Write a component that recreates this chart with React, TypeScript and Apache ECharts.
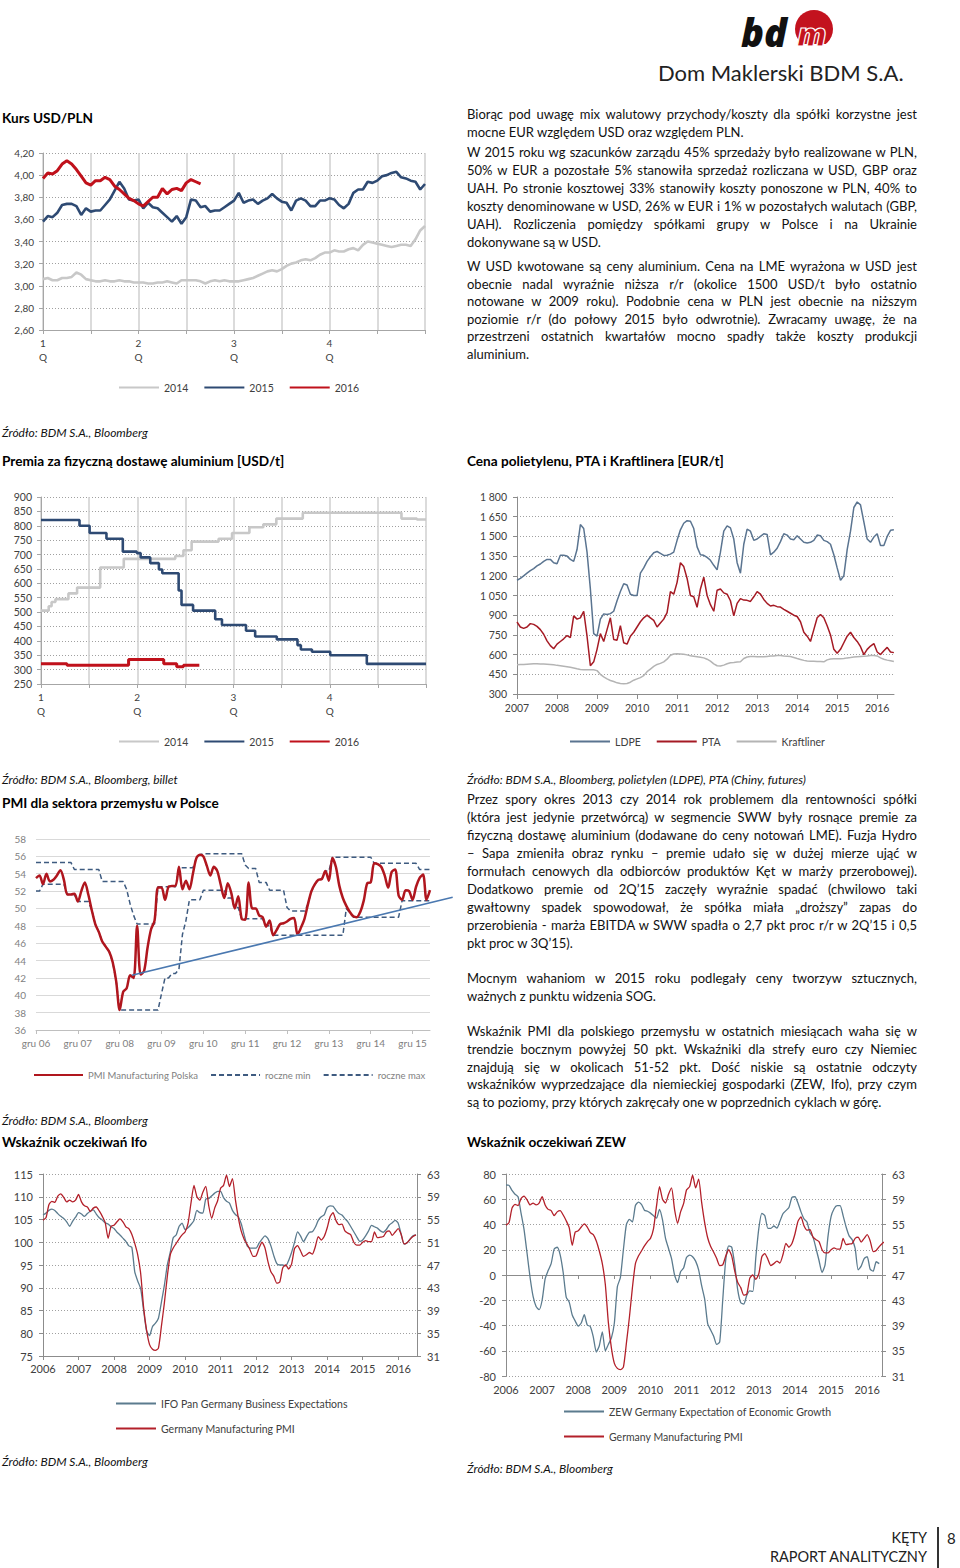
import React, { useEffect, useRef } from 'react';
import * as echarts from 'echarts';

// ---------------- DATA ----------------
// Chart 1: Kurs USD/PLN (x in half-quarter units, sampled every 0.1)
const USD_STEP = 0.1;
const USD_2014 = [3.06,3.07,3.05,3.05,3.07,3.07,3.08,3.12,3.10,3.06,
 3.05,3.04,3.04,3.05,3.04,3.04,3.05,3.04,3.04,3.03,
 3.03,3.03,3.02,3.02,3.03,3.03,3.04,3.03,3.02,3.05,
 3.05,3.05,3.05,3.04,3.02,3.04,3.05,3.04,3.05,3.04,
 3.04,3.04,3.05,3.06,3.07,3.09,3.11,3.13,3.14,3.13,
 3.15,3.18,3.20,3.21,3.23,3.24,3.23,3.25,3.28,3.30,
 3.30,3.32,3.31,3.31,3.33,3.34,3.32,3.37,3.40,3.39,
 3.38,3.37,3.36,3.35,3.36,3.37,3.37,3.36,3.42,3.50,
 3.54];
const USD_2015 = [3.58,3.63,3.62,3.66,3.73,3.74,3.74,3.72,3.64,3.70,
 3.67,3.68,3.68,3.73,3.78,3.86,3.94,3.88,3.78,3.77,
 3.78,3.70,3.75,3.71,3.70,3.66,3.62,3.58,3.63,3.56,
 3.62,3.78,3.77,3.71,3.72,3.67,3.68,3.68,3.71,3.74,
 3.77,3.84,3.75,3.77,3.78,3.74,3.77,3.79,3.83,3.79,
 3.76,3.75,3.68,3.77,3.79,3.77,3.72,3.72,3.77,3.77,
 3.79,3.78,3.73,3.70,3.74,3.84,3.87,3.87,3.94,3.93,
 3.95,3.99,4.00,4.02,4.03,3.98,3.97,3.95,3.94,3.87,
 3.92];
const USD_2016 = [3.97,4.02,4.01,4.04,4.10,4.13,4.10,4.05,3.99,3.93,
 3.91,3.95,3.95,3.98,3.96,3.90,3.87,3.83,3.79,3.77,
 3.74,3.72,3.76,3.80,3.80,3.88,3.83,3.87,3.88,3.86,
 3.93,3.96,3.94,3.92];
const Q_LABELS = ['1\nQ', '2\nQ', '3\nQ', '4\nQ'];

// Chart 2: Premia (step changes: [position in half-quarters, USD/t])
const PREM_2014 = [[0,505],[0.16,520],[0.22,535],[0.30,545],[0.57,565],[0.75,585],[1.23,655],[1.72,685],[2.79,695],[2.96,715],[3.13,745],[3.69,755],[3.97,775],[4.33,795],[4.62,805],[4.89,825],[5.44,845],[7.49,825],[7.81,822],[8,822]];
const PREM_2015 = [[0,820],[0.80,800],[1.01,775],[1.36,755],[1.70,710],[1.99,705],[2.07,690],[2.27,670],[2.45,648],[2.52,635],[2.86,575],[2.92,525],[3.16,505],[3.62,475],[3.76,455],[4.26,435],[4.45,415],[4.90,405],[5.33,385],[5.40,370],[5.63,362],[6.01,350],[6.77,320],[8,320]];
const PREM_2016 = [[0,320],[0.54,315],[1.82,335],[2.55,320],[2.82,310],[2.96,315],[3.29,315]];

// Chart 3: monthly from Jan 2007
const POLY_START = 2007;
const POLY_YEARS = [2007,2008,2009,2010,2011,2012,2013,2014,2015,2016];
const LDPE = [1166,1180,1200,1220,1240,1255,1275,1290,1310,1325,
 1325,1300,1292,1356,1356,1350,1325,1310,1400,1590,
 1560,1380,1100,760,740,870,910,905,912,930,
 1010,1080,1140,1130,1060,1050,1050,1220,1260,1310,
 1345,1375,1385,1370,1355,1356,1365,1380,1470,1550,
 1600,1620,1615,1560,1420,1360,1356,1340,1318,1280,
 1245,1380,1540,1580,1565,1480,1300,1220,1440,1555,
 1540,1470,1480,1500,1520,1515,1360,1380,1410,1460,
 1520,1510,1480,1475,1505,1480,1455,1450,1455,1470,
 1510,1505,1470,1460,1440,1360,1260,1165,1200,1400,
 1540,1720,1762,1740,1610,1480,1455,1495,1520,1430,
 1430,1500,1546,1550];
const PTA = [848,810,800,810,836,830,815,790,755,705,
 668,645,680,700,720,745,730,895,870,880,
 930,740,515,545,640,760,700,790,880,715,
 710,820,690,680,740,770,810,850,880,900,
 880,860,810,840,870,920,1080,1060,1150,1300,
 1270,1180,1050,1040,960,1100,1190,1050,980,930,
 1090,1100,1070,1060,1010,895,990,1026,1015,1013,
 1005,1040,1080,1060,1020,990,970,975,965,962,
 945,930,915,900,890,850,770,740,700,790,
 880,905,880,820,750,640,610,640,690,740,
 770,730,700,660,600,640,665,684,620,600,
 630,655,620,615];
const KRAFT = [523,524,525,527,529,530,530,529,528,527,
 525,522,518,515,512,508,503,498,492,487,
 485,484,484,484,478,450,430,415,403,395,
 385,380,378,380,390,405,415,425,440,470,
 490,510,525,533,545,565,595,605,607,605,
 603,598,592,588,584,580,575,565,550,530,
 515,513,520,530,538,540,543,545,570,582,
 585,585,584,583,583,586,589,590,593,593,
 590,588,585,578,570,563,556,552,550,549,
 548,547,545,560,567,568,569,569,570,575,
 578,582,584,586,588,590,593,594,590,575,
 565,558,553,548];

// Chart 4: PMI Polska, monthly from Dec 2006 (month index 0)
const PMI_LABELS = ['gru 06','gru 07','gru 08','gru 09','gru 10','gru 11','gru 12','gru 13','gru 14','gru 15'];
const PMI_LABEL_MONTHS = [0,12,24,36,48,60,72,84,96,108];
const PMI_PL = [53.5,53.8,52.8,54.0,53.1,53.3,53.8,54.4,53.3,51.6,
 51.6,51.7,50.8,52.0,53.0,51.6,49.8,48.2,47.3,46.2,
 45.6,45.0,43.8,41.6,38.3,40.4,40.8,42.3,42.0,48.0,
 42.4,42.8,45.5,47.6,48.6,52.4,52.4,51.0,52.5,52.6,
 52.6,54.8,52.2,53.2,52.2,54.0,55.8,56.2,56.0,54.9,
 53.8,54.8,54.3,52.7,51.2,52.9,51.8,50.0,51.4,48.8,
 48.7,53.0,50.0,50.0,49.2,49.0,47.9,48.6,46.9,47.5,
 48.2,48.3,48.5,48.8,48.9,47.0,47.8,48.8,50.5,52.0,
 52.8,53.3,53.4,54.3,53.2,55.8,54.8,52.6,51.2,50.3,
 49.6,49.1,49.0,49.6,50.9,52.9,53.0,55.2,55.1,54.8,
 53.8,52.4,54.2,54.5,51.5,51.0,52.1,52.0,51.0,52.5,
 53.5,53.9,51.0,52.1];
const PMI_PL_MIN = [52.0,52.0,52.8,52.8,52.8,52.8,52.8,52.8,52.8,51.6,
 51.6,51.6,50.8,50.8,50.8,50.8,49.8,48.2,47.3,46.2,
 45.6,45.0,43.8,41.6,38.3,38.3,38.3,38.3,38.3,38.3,
 38.3,38.3,38.3,38.3,38.3,38.3,40.2,42.0,42.0,42.5,
 42.5,43.0,47.0,48.6,51.0,51.0,51.0,51.0,52.1,52.1,
 52.1,52.1,52.1,52.1,52.1,51.2,51.2,50.1,50.1,48.8,
 48.8,48.8,48.8,48.8,48.8,48.8,48.0,48.0,46.9,46.9,
 46.9,46.9,46.9,46.9,46.9,46.9,46.9,46.9,46.9,46.9,
 46.9,46.9,46.9,46.9,46.9,46.9,46.9,46.9,46.9,50.0,
 49.5,49.0,49.0,49.0,49.0,49.0,49.0,49.0,49.0,49.0,
 49.0,49.0,49.0,49.0,49.0,50.9,50.9,50.9,50.9,50.9,
 50.9,50.9,50.9,50.9];
const PMI_PL_MAX = [55.3,55.3,55.3,55.3,55.3,55.3,55.3,55.3,55.3,55.3,
 55.3,54.5,54.5,54.5,54.5,54.5,54.5,54.5,54.5,53.1,
 53.1,53.1,53.1,53.1,53.1,53.1,52.2,50.5,49.2,48.2,
 48.2,48.2,48.2,48.2,48.2,52.5,52.5,52.5,52.5,52.5,
 52.5,54.7,54.7,54.7,54.7,54.7,55.8,56.2,56.3,56.3,
 56.3,56.3,56.3,56.3,56.3,56.3,56.3,56.3,56.3,56.3,
 55.0,54.6,54.6,54.6,53.0,53.0,53.0,52.1,52.1,52.1,
 52.1,52.1,50.1,49.7,49.7,49.7,49.7,49.7,50.5,52.0,
 52.8,53.3,53.4,54.3,54.3,55.9,55.9,55.9,55.9,55.9,
 55.9,55.9,55.9,55.9,55.9,55.9,55.9,55.2,55.2,55.2,
 55.2,55.2,55.2,55.2,55.2,55.2,55.2,55.2,55.2,55.2,
 54.5,54.5,54.5,54.5];
const PMI_TREND = [[27.5, 42.3], [119.5, 51.3]];

// Charts 5 & 6: monthly from Jan 2006
const DE_START = 2006;
const DE_YEARS = [2006,2007,2008,2009,2010,2011,2012,2013,2014,2015,2016];
const DE_PMI_TICKS = [31,35,39,43,47,51,55,59,63];
const IFO = [106.0,106.4,107.0,107.3,107.0,106.3,105.7,105.2,104.5,103.5,
 104.6,105.5,106.5,106.2,105.7,106.3,106.8,107.1,106.2,105.4,
 104.9,104.3,104.0,103.4,103.0,102.2,101.6,100.9,100.2,99.2,
 98.9,93.5,91.5,89.8,85.0,80.5,79.5,81.5,82.2,83.3,
 86.8,90.5,95.0,97.8,101.0,101.6,103.5,104.2,102.8,103.2,
 103.9,104.8,107.0,106.5,106.4,109.5,109.6,110.2,110.8,111.2,
 111.2,109.8,109.0,108.6,107.0,106.1,105.6,104.0,101.5,99.2,
 98.7,98.7,98.7,99.8,100.7,101.4,100.8,99.2,97.0,95.3,
 95.0,95.0,94.8,96.0,97.8,100.0,102.3,101.4,100.1,101.2,
 102.2,102.3,103.3,104.8,105.6,106.0,107.6,108.0,107.9,107.0,
 106.3,106.0,105.2,104.5,103.4,102.3,101.2,100.2,100.5,101.4,
 102.5,103.7,103.4,103.1,102.5,102.2,102.8,103.8,104.3,104.8,
 104.2,101.8,99.6,99.9,100.7,101.4,101.6];
const DE_PMI = [54.9,55.3,57.6,58.2,58.0,59.1,59.5,58.9,58.1,58.4,
 58.1,58.4,59.4,58.1,57.4,57.2,56.4,57.0,57.2,56.5,
 55.6,54.5,51.7,53.8,54.0,54.6,55.1,54.6,53.7,53.4,
 52.4,50.8,48.8,45.5,39.5,35.5,33.0,32.2,32.0,32.4,
 36.2,40.3,45.0,48.8,50.0,50.8,51.6,52.3,52.8,54.3,
 57.9,61.0,59.0,58.4,59.8,60.8,57.4,55.2,57.0,58.3,
 60.5,61.0,62.8,60.8,62.2,58.5,55.3,52.9,51.5,50.6,
 49.6,48.5,48.6,50.0,51.0,50.0,47.6,45.8,45.0,43.8,
 44.0,46.5,47.0,46.3,47.2,49.9,50.4,49.5,48.5,48.8,
 49.2,48.9,50.2,52.0,51.4,52.0,53.5,55.5,56.2,54.8,
 54.1,54.2,53.0,52.6,52.3,51.0,50.5,50.5,51.0,51.3,
 51.1,51.1,52.8,51.8,51.9,52.0,52.8,53.0,52.2,52.8,
 53.4,52.4,50.7,50.9,51.5,52.0,52.3];
const ZEW = [71.3,71.0,67.0,64.0,62.0,49.0,36.0,17.2,-2.0,-17.0,
 -25.0,-27.5,-20.0,-3.0,3.5,9.0,20.5,22.0,16.0,2.0,
 -17.5,-21.5,-31.7,-36.5,-40.5,-38.0,-31.5,-39.6,-40.8,-49.0,
 -61.0,-56.0,-45.0,-60.0,-55.0,-50.0,-38.0,-9.2,-2.0,20.0,
 40.0,44.0,42.0,55.0,57.8,56.0,51.3,50.5,49.0,47.0,
 45.0,52.0,43.6,29.0,21.0,13.0,0.0,-6.0,2.6,5.5,
 14.0,15.8,14.5,11.0,4.0,-8.5,-19.0,-38.5,-43.6,-48.5,
 -55.0,-53.0,-20.0,11.9,23.0,22.0,8.0,-12.0,-22.0,-23.0,
 -16.0,-12.5,-13.0,14.0,37.0,48.8,47.0,37.0,37.0,38.8,
 37.2,42.5,48.5,51.0,53.5,61.5,62.0,57.0,50.0,44.5,
 42.0,33.5,30.0,21.0,11.5,2.0,8.0,31.0,46.2,52.5,
 55.0,55.0,47.0,38.0,31.0,28.0,21.0,4.0,7.0,13.0,
 14.5,4.5,3.0,10.5,9.0];

// ---------------- TEXT ----------------
const TEXT_TOP = [
  { y: 114, lh: 18, lines: ['Biorąc pod uwagę mix walutowy przychody/koszty dla spółki korzystne jest', 'mocne EUR względem USD oraz względem PLN.'] },
  { y: 152, lh: 18, lines: ['W 2015 roku wg szacunków zarządu 45% sprzedaży było realizowane w PLN,', '50% w EUR a pozostałe 5% stanowiła sprzedaż rozliczana w USD, GBP oraz', 'UAH. Po stronie kosztowej 33% stanowiły  koszty ponoszone w PLN, 40% to', 'koszty denominowane w USD, 26% w EUR i 1% w pozostałych walutach (GBP,', 'UAH). Rozliczenia pomiędzy spółkami grupy w Polsce i na Ukrainie', 'dokonywane są w USD.'] },
  { y: 266, lh: 17.6, lines: ['W USD kwotowane są ceny aluminium. Cena na LME wyrażona w USD jest', 'obecnie nadal wyraźnie niższa r/r (okolice 1500 USD/t było ostatnio', 'notowane w 2009 roku). Podobnie cena w PLN jest obecnie na niższym', 'poziomie r/r (do połowy 2015 było odwrotnie). Zwracamy uwagę, że na', 'przestrzeni ostatnich kwartałów mocno spadły także koszty produkcji', 'aluminium.'] },
];
const TEXT_MID = [
  { y: 799, lh: 18, lines: ['Przez spory okres 2013 czy 2014 rok problemem dla rentowności spółki', '(która jest jedynie przetwórcą) w segmencie SWW były rosnące premie za', 'fizyczną dostawę aluminium (dodawane do ceny notowań LME). Fuzja Hydro', '– Sapa zmieniła obraz rynku – premie udało się w dużej mierze ująć w', 'formułach cenowych dla odbiorców produktów Kęt w marży przerobowej).', 'Dodatkowo premie od 2Q’15 zaczęły wyraźnie spadać (chwilowo taki', 'gwałtowny spadek spowodował, że spółka miała „droższy” zapas do', 'przerobienia - marża EBITDA w SWW spadła o 2,7 pkt proc r/r w 2Q’15 i 0,5', 'pkt proc w 3Q’15).'] },
  { y: 978, lh: 18, lines: ['Mocnym wahaniom w 2015 roku podlegały ceny tworzyw sztucznych,', 'ważnych z punktu widzenia SOG.'] },
  { y: 1031, lh: 17.8, lines: ['Wskaźnik PMI dla polskiego przemysłu w ostatnich miesiącach waha się w', 'trendzie bocznym powyżej 50 pkt. Wskaźniki dla strefy euro czy Niemiec', 'znajdują się w okolicach  51-52 pkt. Dość niskie są ostatnie odczyty', 'wskaźników wyprzedzające dla niemieckiej gospodarki (ZEW, Ifo), przy czym', 'są to poziomy, przy których zakręcały one w poprzednich cyklach w górę.'] },
];

const FONT = 'Lato, "Open Sans", "DejaVu Sans", sans-serif';
const BODY_SIZE = 13;

const seq = (arr: number[], start: number, step: number) => arr.map((v, i) => [start + i * step, v]);
const near = (v: number, k: number) => Math.abs(v / k - Math.round(v / k)) < 1e-6;

function buildOption(): any {
  const lbl = (extra: any = {}) => ({ color: '#404040', fontSize: 10, fontFamily: FONT, ...extra });
  const dotted = { show: true, lineStyle: { color: '#a0a0a0', type: [1, 2], width: 1 } };
  const axLine = (c = '#a6a6a6') => ({ show: true, onZero: false, lineStyle: { color: c, width: 1 } });
  const tick = (len = 4, c = '#a6a6a6') => ({ show: true, length: len, lineStyle: { color: c } });
  const vSplit = { show: true, lineStyle: { color: '#d2d2d2', width: 1.6 } };
  const qFmt = (v: number) => (near(v, 2) && v < 7.9 ? Q_LABELS[Math.round(v / 2)] : '');
  const polyFmt = (v: number) => String(Math.round(v));
  const thousand = (v: number) => (v >= 1000 ? `${Math.floor(v / 1000)} ${String(v % 1000).padStart(3, '0')}` : String(v));

  const ln = (name: string, xi: number, yi: number, data: any[], color: string, width: number, extra: any = {}) => ({
    type: 'line', name, xAxisIndex: xi, yAxisIndex: yi, data, symbol: 'none', showSymbol: false,
    lineStyle: { color, width, ...(extra.lineStyle || {}) }, itemStyle: { color }, emphasis: { disabled: true },
    ...Object.fromEntries(Object.entries(extra).filter(([k]) => k !== 'lineStyle')),
  });

  const legBase = {
    padding: 0, itemWidth: 40, itemHeight: 12, selectedMode: false,
    itemStyle: { opacity: 0 },
    textStyle: { color: '#404040', fontSize: 10.5, fontFamily: FONT },
  };

  const C_GREY = '#c8c8c8', C_BLUE = '#2e4a73', C_RED = '#c0111b';
  const PMI_GRID_W = 394;
  const PMI_X_MAX = 113;
  const TREND_X_MAX = 119.5;

  return {
    animation: false,
    textStyle: { fontFamily: FONT },
    grid: [
      { left: 43, top: 153, width: 382, height: 177, outerBoundsMode: 'none' },
      { left: 41, top: 497, width: 385, height: 187, outerBoundsMode: 'none' },
      { left: 517, top: 497, width: 377, height: 197, outerBoundsMode: 'none' },
      { left: 36, top: 839, width: PMI_GRID_W, height: 191, outerBoundsMode: 'none' },
      { left: 43, top: 1174, width: 374, height: 182, outerBoundsMode: 'none' },
      { left: 506, top: 1174, width: 376, height: 202, outerBoundsMode: 'none' },
      // same scale as the PMI grid, extended to the right for the trend line that runs past the plot
      { left: 36, top: 839, width: PMI_GRID_W * TREND_X_MAX / PMI_X_MAX, height: 191, outerBoundsMode: 'none' },
    ],
    legend: [
      { ...legBase, left: 118, top: 382, itemGap: 15, data: ['2014', '2015', '2016'] },
      { ...legBase, left: 118, top: 736, itemGap: 15, data: ['2014', '2015', '2016'] },
      { ...legBase, left: 569, top: 736, itemGap: 15, data: ['LDPE', 'PTA', 'Kraftliner'] },
      { ...legBase, left: 33, top: 1070, itemWidth: 49, itemGap: 12, textStyle: { color: '#7f7f7f', fontSize: 9.5, fontFamily: FONT }, data: ['PMI Manufacturing Polska', 'roczne min', 'roczne max'] },
      { ...legBase, left: 115, top: 1398, orient: 'vertical', itemGap: 14, data: ['IFO Pan Germany Business Expectations', 'Germany Manufacturing PMI'] },
      { ...legBase, left: 563, top: 1406, orient: 'vertical', itemGap: 14, data: ['ZEW Germany Expectation of Economic Growth', 'Germany Manufacturing PMI'] },
    ],
    xAxis: [
      { gridIndex: 0, type: 'value', min: 0, max: 8, interval: 1, axisLine: axLine(), axisTick: tick(4), splitLine: vSplit, axisLabel: lbl({ formatter: qFmt, lineHeight: 14, margin: 6 }) },
      { gridIndex: 1, type: 'value', min: 0, max: 8, interval: 1, axisLine: axLine(), axisTick: tick(4), splitLine: vSplit, axisLabel: lbl({ formatter: qFmt, lineHeight: 14, margin: 6 }) },
      { gridIndex: 2, type: 'value', min: 2007, max: 2016.42, interval: 1, axisLine: axLine('#8c8c8c'), axisTick: { ...tick(5, '#8c8c8c'), customValues: POLY_YEARS }, splitLine: { show: false }, axisLabel: lbl({ formatter: polyFmt, customValues: POLY_YEARS, margin: 8, fontSize: 10.5 }) },
      { gridIndex: 3, type: 'value', min: 0, max: PMI_X_MAX, interval: 12, axisLine: axLine('#bfbfbf'), axisTick: { ...tick(4, '#bfbfbf'), customValues: PMI_LABEL_MONTHS }, splitLine: { show: false }, axisLabel: lbl({ color: '#7f7f7f', fontSize: 10, margin: 8, customValues: PMI_LABEL_MONTHS, formatter: (v: number) => PMI_LABELS[Math.round(v / 12)] || '' }) },
      { gridIndex: 4, type: 'value', min: 2006, max: 2016.53, interval: 1, axisLine: axLine('#8c8c8c'), axisTick: { ...tick(4, '#8c8c8c'), customValues: DE_YEARS }, splitLine: { show: false }, axisLabel: lbl({ formatter: polyFmt, customValues: DE_YEARS, margin: 7, fontSize: 11 }) },
      { gridIndex: 5, type: 'value', min: 2006, max: 2016.41, interval: 1, axisLine: { show: true, onZero: true, lineStyle: { color: '#8c8c8c', width: 1 } }, axisTick: { ...tick(4, '#8c8c8c'), customValues: DE_YEARS }, splitLine: { show: false }, axisLabel: lbl({ formatter: polyFmt, customValues: DE_YEARS, margin: 8, fontSize: 11 }) },
      { gridIndex: 6, type: 'value', min: 0, max: TREND_X_MAX, show: false },
    ],
    yAxis: [
      { gridIndex: 0, type: 'value', min: 2.6, max: 4.2, interval: 0.2, axisLine: axLine(), axisTick: tick(4), splitLine: dotted, axisLabel: lbl({ formatter: (v: number) => v.toFixed(2).replace('.', ','), margin: 9 }) },
      { gridIndex: 1, type: 'value', min: 250, max: 900, interval: 50, axisLine: axLine(), axisTick: tick(4), splitLine: dotted, axisLabel: lbl({ margin: 9, fontSize: 10.5 }) },
      { gridIndex: 2, type: 'value', min: 300, max: 1800, interval: 150, axisLine: axLine('#8c8c8c'), axisTick: tick(4, '#8c8c8c'), splitLine: dotted, axisLabel: lbl({ formatter: thousand, margin: 10, fontSize: 10.5 }) },
      { gridIndex: 3, type: 'value', min: 36, max: 58, interval: 2, axisLine: { show: false }, axisTick: { show: false }, splitLine: { show: true, lineStyle: { color: '#d9d9d9', width: 1 } }, axisLabel: lbl({ color: '#7f7f7f', margin: 10, fontSize: 10 }) },
      { gridIndex: 4, type: 'value', min: 75, max: 115, interval: 5, axisLine: axLine('#8c8c8c'), axisTick: tick(4, '#8c8c8c'), splitLine: dotted, axisLabel: lbl({ margin: 10, fontSize: 11 }) },
      { gridIndex: 4, type: 'value', position: 'right', min: 31, max: 63, axisLine: axLine('#8c8c8c'), axisTick: { ...tick(4, '#8c8c8c'), customValues: DE_PMI_TICKS }, splitLine: { show: false }, axisLabel: lbl({ margin: 10, fontSize: 11, customValues: DE_PMI_TICKS }) },
      { gridIndex: 5, type: 'value', min: -80, max: 80, interval: 20, axisLine: axLine('#8c8c8c'), axisTick: tick(4, '#8c8c8c'), splitLine: dotted, axisLabel: lbl({ margin: 10, fontSize: 11 }) },
      { gridIndex: 5, type: 'value', position: 'right', min: 31, max: 63, axisLine: axLine('#8c8c8c'), axisTick: { ...tick(4, '#8c8c8c'), customValues: DE_PMI_TICKS }, splitLine: { show: false }, axisLabel: lbl({ margin: 10, fontSize: 11, customValues: DE_PMI_TICKS }) },
      { gridIndex: 6, type: 'value', min: 36, max: 58, show: false },
    ],
    series: [
      // chart 1
      ln('2014', 0, 0, seq(USD_2014, 0, USD_STEP), C_GREY, 2.6),
      ln('2015', 0, 0, seq(USD_2015, 0, USD_STEP), C_BLUE, 2.6),
      ln('2016', 0, 0, seq(USD_2016, 0, USD_STEP), C_RED, 3),
      // chart 2
      ln('2014', 1, 1, PREM_2014, C_GREY, 2.6, { step: 'end' }),
      ln('2015', 1, 1, PREM_2015, C_BLUE, 2.6, { step: 'end' }),
      ln('2016', 1, 1, PREM_2016, C_RED, 3, { step: 'end' }),
      // chart 3
      ln('LDPE', 2, 2, seq(LDPE, POLY_START, 1 / 12), '#5a7490', 1.5),
      ln('PTA', 2, 2, seq(PTA, POLY_START, 1 / 12), '#a51a24', 1.5),
      ln('Kraftliner', 2, 2, seq(KRAFT, POLY_START, 1 / 12), '#b4b4b4', 1.5),
      // chart 4
      ln('roczne min', 3, 3, seq(PMI_PL_MIN, 0, 1), '#3e5b80', 1.5, { lineStyle: { type: [5, 3] } }),
      ln('roczne max', 3, 3, seq(PMI_PL_MAX, 0, 1), '#3e5b80', 1.5, { lineStyle: { type: [5, 3] } }),
      ln('PMI Manufacturing Polska', 3, 3, seq(PMI_PL, 0, 1), '#b0161e', 2.5, { smooth: 0.3 }),
      ln('trend', 6, 8, PMI_TREND, '#4a78b0', 1.6),
      // chart 5
      ln('IFO Pan Germany Business Expectations', 4, 4, seq(IFO, DE_START, 1 / 12), '#5b7b8e', 1.3, { smooth: 0.2 }),
      ln('Germany Manufacturing PMI', 4, 5, seq(DE_PMI, DE_START, 1 / 12), '#b3202a', 1.3, { smooth: 0.2 }),
      // chart 6
      ln('ZEW Germany Expectation of Economic Growth', 5, 6, seq(ZEW, DE_START, 1 / 12), '#5b7b8e', 1.3, { smooth: 0.2 }),
      ln('Germany Manufacturing PMI', 5, 7, seq(DE_PMI, DE_START, 1 / 12), '#b3202a', 1.3, { smooth: 0.2 }),
    ],
  };
}

const abs = (x: number, cy: number, extra: any = {}): React.CSSProperties => ({
  position: 'absolute', left: x, top: cy - 9, height: 18, lineHeight: '18px', whiteSpace: 'nowrap', color: '#111', fontFamily: FONT, ...extra,
});

function Title({ x, y, children }: any) {
  return <div style={abs(x, y, { fontWeight: 700, fontSize: 13.6, color: '#000' })}>{children}</div>;
}
function Source({ x, y, children }: any) {
  return <div style={abs(x, y, { fontStyle: 'italic', fontSize: 12 })}>{children}</div>;
}
function Paragraphs({ x, w, blocks }: any) {
  const out: any[] = [];
  blocks.forEach((b: any, bi: number) => {
    b.lines.forEach((t: string, i: number) => {
      const last = i === b.lines.length - 1;
      out.push(
        <div key={`${bi}-${i}`} data-fit="1" style={abs(x, b.y + i * b.lh, { width: w, fontSize: BODY_SIZE, textAlign: 'justify', textAlignLast: last ? 'left' : 'justify', color: '#111', overflow: 'visible' })}>{t}</div>
      );
    });
  });
  return <>{out}</>;
}

export default function App() {
  const ref = useRef<HTMLDivElement>(null);
  useEffect(() => {
    const chart = echarts.init(ref.current as HTMLDivElement, undefined, { renderer: 'svg' });
    chart.setOption(buildOption());
    // tighten any justified line that would not fit its column
    document.querySelectorAll<HTMLElement>('[data-fit]').forEach((el) => {
      el.style.letterSpacing = '0px';
      const over = el.scrollWidth - el.clientWidth;
      if (over > 0) {
        const n = (el.textContent || '').length || 1;
        el.style.letterSpacing = `${-(over + 1) / n}px`;
      }
    });
    return () => chart.dispose();
  }, []);
  return (
    <div style={{ position: 'absolute', left: 0, top: 0, width: 960, height: 1568, background: '#fff', overflow: 'hidden', fontFamily: FONT }}>
      <div ref={ref} style={{ position: 'absolute', left: 0, top: 0, width: 960, height: 1568 }} />

      {/* logo */}
      <div style={{ position: 'absolute', left: 795, top: 10, width: 38, height: 34, overflow: 'hidden' }}>
        <div style={{ width: 38, height: 38, borderRadius: '50%', background: '#c3121e' }} />
      </div>
      <div style={{ position: 'absolute', left: 741, top: 14, fontFamily: '"Open Sans", sans-serif', fontWeight: 800, fontStyle: 'italic', fontSize: 38, lineHeight: '37px', color: '#111', letterSpacing: 0 }}>bd</div>
      <div style={{ position: 'absolute', left: 797, top: 19, fontFamily: '"Open Sans", sans-serif', fontWeight: 800, fontStyle: 'italic', fontSize: 32, lineHeight: '30px', color: '#c3121e', WebkitTextStroke: '1.2px #ffffff' } as any}>m</div>
      <div style={{ position: 'absolute', left: 658, top: 62, fontFamily: FONT, fontSize: 22, lineHeight: '22px', color: '#222', whiteSpace: 'nowrap' }}>Dom Maklerski BDM S.A.</div>

      {/* titles and sources */}
      <Title x={2} y={118}>Kurs USD/PLN</Title>
      <Source x={2} y={433}>Źródło: BDM S.A., Bloomberg</Source>
      <Title x={2} y={461}>Premia za fizyczną dostawę aluminium [USD/t]</Title>
      <Title x={467} y={461}>Cena polietylenu, PTA i Kraftlinera [EUR/t]</Title>
      <Source x={2} y={780}>Źródło: BDM S.A., Bloomberg, billet</Source>
      <Source x={467} y={780}>Źródło: BDM S.A., Bloomberg, polietylen (LDPE), PTA (Chiny, futures)</Source>
      <Title x={2} y={803}>PMI dla sektora przemysłu w Polsce</Title>
      <Source x={2} y={1121}>Źródło: BDM S.A., Bloomberg</Source>
      <Title x={2} y={1142}>Wskaźnik oczekiwań Ifo</Title>
      <Title x={467} y={1142}>Wskaźnik oczekiwań ZEW</Title>
      <Source x={2} y={1462}>Źródło: BDM S.A., Bloomberg</Source>
      <Source x={467} y={1469}>Źródło: BDM S.A., Bloomberg</Source>

      <Paragraphs x={467} w={450} blocks={TEXT_TOP} />
      <Paragraphs x={467} w={450} blocks={TEXT_MID} />

      {/* footer */}
      <div style={{ position: 'absolute', right: 33, top: 1529, fontSize: 14.5, lineHeight: '18px', color: '#222', fontFamily: FONT, whiteSpace: 'nowrap' }}>KĘTY</div>
      <div style={{ position: 'absolute', right: 33, top: 1548, fontSize: 14.5, lineHeight: '18px', color: '#222', fontFamily: FONT, whiteSpace: 'nowrap' }}>RAPORT ANALITYCZNY</div>
      <div style={{ position: 'absolute', left: 937, top: 1527, width: 1.5, height: 41, background: '#333' }} />
      <div style={{ position: 'absolute', left: 947, top: 1529, fontSize: 15, lineHeight: '18px', color: '#222', fontFamily: FONT }}>8</div>
    </div>
  );
}
